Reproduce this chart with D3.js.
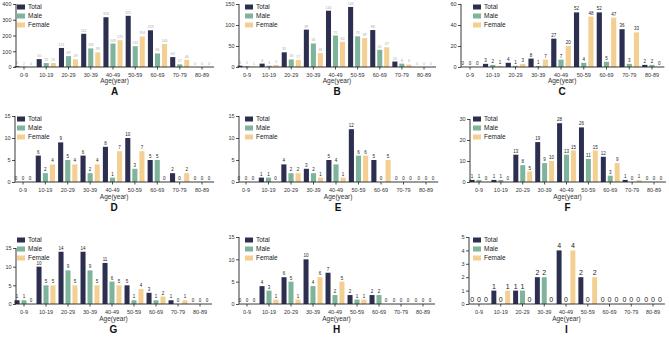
<!doctype html>
<html>
<head>
<meta charset="utf-8"/>
<script src="https://cdnjs.cloudflare.com/ajax/libs/d3/7.8.5/d3.min.js"></script>
<style>
  body { margin: 0; background: #fff; }
  text { font-family: "Liberation Sans", Arial, sans-serif; }
</style>
</head>
<body>
<svg id="chart" width="669" height="337"></svg>
<script>
var ages = ["0-9","10-19","20-29","30-39","40-49","50-59","60-69","70-79","80-89"];
var seriesNames = ["Total","Male","Female"];
var colors = ["#2c2f4f","#7db49b","#f3d091"];

// values per panel: total, male, female
var totalA  = [5, 50, 121, 211, 316, 325, 233, 63, 0];
var maleA   = [2, 25, 69, 118, 149, 132, 86, 17, 0];
var femaleA = [0, 25, 49, 93, 170, 194, 146, 46, 0];

var totalB  = [3, 8, 35, 89, 134, 143, 88, 13, 0];
var maleB   = [2, 3, 18, 56, 75, 73, 41, 8, 0];
var femaleB = [1, 5, 17, 33, 60, 69, 47, 6, 0];

var totalC  = [0, 3, 4, 8, 27, 52, 52, 36, 2];
var maleC   = [0, 2, 1, 1, 7, 4, 5, 3, 2];
var femaleC = [0, 1, 3, 7, 20, 48, 47, 33, 0];

var totalD  = [0, 6, 9, 6, 8, 10, 5, 2, 0];
var maleD   = [0, 2, 5, 2, 1, 3, 5, 0, 0];
var femaleD = [0, 4, 4, 4, 7, 7, 0, 2, 0];

var totalE  = [0, 1, 4, 3, 5, 12, 5, 0, 0];
var maleE   = [0, 1, 2, 2, 4, 6, 0, 0, 0];
var femaleE = [0, 0, 2, 1, 1, 6, 5, 0, 0];

var totalF  = [1, 1, 13, 19, 28, 26, 12, 1, 0];
var maleF   = [1, 1, 8, 9, 13, 11, 3, 0, 0];
var femaleF = [0, 0, 5, 10, 15, 15, 9, 1, 0];

var totalG  = [1, 10, 14, 14, 11, 5, 3, 1, 0];
var maleG   = [1, 5, 9, 9, 6, 1, 1, 0, 0];
var femaleG = [0, 5, 5, 5, 5, 4, 2, 1, 0];

var totalH  = [0, 4, 6, 10, 7, 2, 2, 0, 0];
var maleH   = [0, 3, 5, 4, 2, 1, 2, 0, 0];
var femaleH = [0, 1, 1, 6, 5, 1, 0, 0, 0];

var totalI  = [0, 1, 1, 2, 4, 2, 0, 0, 0];
var maleI   = [0, 0, 1, 2, 0, 0, 0, 0, 0];
var femaleI = [0, 1, 0, 0, 4, 2, 0, 0, 0];

var yMaxes = {A: 400, B: 150, C: 60, D: 15, E: 15, F: 30, G: 15, H: 15, I: 5};
var yTicks = {A: [0,100,200,300,400], B: [0,50,100,150], C: [0,20,40,60],
              D: [0,5,10,15], E: [0,5,10,15], F: [0,10,20,30],
              G: [0,5,10,15], H: [0,5,10,15], I: [0,1,2,3,4,5]};

var panels = [
  {id:"A", data:[totalA, maleA, femaleA], axisX:16,  c0:24,  c1:202, top:4,   zero:67,  row:0, faint:true},
  {id:"B", data:[totalB, maleB, femaleB], axisX:239, c0:247, c1:424, top:4,   zero:67,  row:0, faint:true},
  {id:"C", data:[totalC, maleC, femaleC], axisX:461, c0:470, c1:652, top:4,   zero:67,  row:0},
  {id:"D", data:[totalD, maleD, femaleD], axisX:15,  c0:23,  c1:202, top:116, zero:182, row:1},
  {id:"E", data:[totalE, maleE, femaleE], axisX:239, c0:246, c1:426, top:116, zero:182, row:1},
  {id:"F", data:[totalF, maleF, femaleF], axisX:470, c0:479, c1:654, top:119, zero:182, row:1},
  {id:"G", data:[totalG, maleG, femaleG], axisX:16,  c0:24,  c1:200, top:248, zero:304, row:2},
  {id:"H", data:[totalH, maleH, femaleH], axisX:239, c0:247, c1:423, top:237, zero:304, row:2},
  {id:"I", data:[totalI, maleI, femaleI], axisX:469, c0:479, c1:653, top:237, zero:304, row:2, big:true}
];

var legendY  = [7, 119, 240];
var tickY    = [73, 188, 310];
var titleY   = [81, 197, 319];
var letterY  = [95, 211, 333];
var legendX  = {0: 17, 1: 245, 2: 473};

var svg = d3.select("#chart");

panels.forEach(function (p, pi) {
  var col = pi % 3;
  var step = (p.c1 - p.c0) / 8;
  var x = d3.scaleBand().domain(ages)
    .range([p.c0 - step / 2, p.c1 + step / 2]).paddingInner(0).paddingOuter(0);
  var xs = d3.scaleBand().domain([0,1,2]).range([0, step]).paddingInner(0.28).paddingOuter(0.22);
  var y = d3.scaleLinear().domain([0, yMaxes[p.id]]).range([p.zero, p.top]);

  var g = svg.append("g");

  // bars
  p.data.forEach(function (vals, si) {
    g.selectAll(null).data(vals).enter().append("rect")
      .attr("x", function (d, i) { return x(ages[i]) + xs(si); })
      .attr("y", function (d) { return y(d); })
      .attr("width", xs.bandwidth())
      .attr("height", function (d) { return p.zero - y(d); })
      .attr("fill", colors[si]);

    g.selectAll(null).data(vals).enter().append("text")
      .attr("x", function (d, i) { return x(ages[i]) + xs(si) + xs.bandwidth() / 2; })
      .attr("y", function (d) { return y(d) - 2; })
      .attr("text-anchor", "middle")
      .attr("font-size", p.big ? 7 : (p.faint ? 3.5 : 4.5))
      .attr("fill", p.faint ? "#aaa" : "#222")
      .text(function (d) { return d; });
  });

  // y axis
  var yAxis = d3.axisLeft(y).tickValues(yTicks[p.id]).tickFormat(d3.format("d")).tickSize(3).tickPadding(1.5);
  var ya = g.append("g").attr("transform", "translate(" + p.axisX + ",0)").call(yAxis);
  ya.select(".domain").attr("d", "M0," + p.top + "V" + p.zero).attr("stroke", "#222").attr("stroke-width", 0.9);
  ya.selectAll(".tick line").attr("stroke", "#222").attr("stroke-width", 0.8);
  ya.selectAll(".tick text").attr("font-size", 5.5).attr("fill", "#333").attr("font-family", "Liberation Sans, Arial, sans-serif");

  // x axis
  var xAxis = d3.axisBottom(x).tickSize(2.5).tickPadding(2);
  var xa = g.append("g").attr("transform", "translate(0," + p.zero + ")").call(xAxis);
  xa.select(".domain").attr("d", "M" + p.axisX + ",0H" + (p.c1 + step / 2 + 1)).attr("stroke", "#222").attr("stroke-width", 0.9);
  xa.selectAll(".tick line").attr("stroke", "#222").attr("stroke-width", 0.8);
  xa.selectAll(".tick text").attr("font-size", 5.5).attr("fill", "#333")
    .attr("font-family", "Liberation Sans, Arial, sans-serif")
    .attr("y", tickY[p.row] - p.zero);

  var midX = (p.axisX + p.c1 + step / 2) / 2;
  g.append("text").attr("x", midX).attr("y", titleY[p.row] + 2)
    .attr("text-anchor", "middle").attr("font-size", 6.5).attr("fill", "#333")
    .text("Age(year)");
  g.append("text").attr("x", midX).attr("y", letterY[p.row])
    .attr("text-anchor", "middle").attr("font-size", 10).attr("font-weight", "bold").attr("fill", "#111")
    .text(p.id);

  // legend
  var lx = legendX[col];
  seriesNames.forEach(function (name, si) {
    var ly = legendY[p.row] + si * 9;
    g.append("rect").attr("x", lx).attr("y", ly - 2.5).attr("width", 8).attr("height", 5).attr("fill", colors[si]);
    g.append("text").attr("x", lx + 11).attr("y", ly + 2.3)
      .attr("font-size", 6.5).attr("fill", "#222").text(name);
  });
});
</script>
</body>
</html>
